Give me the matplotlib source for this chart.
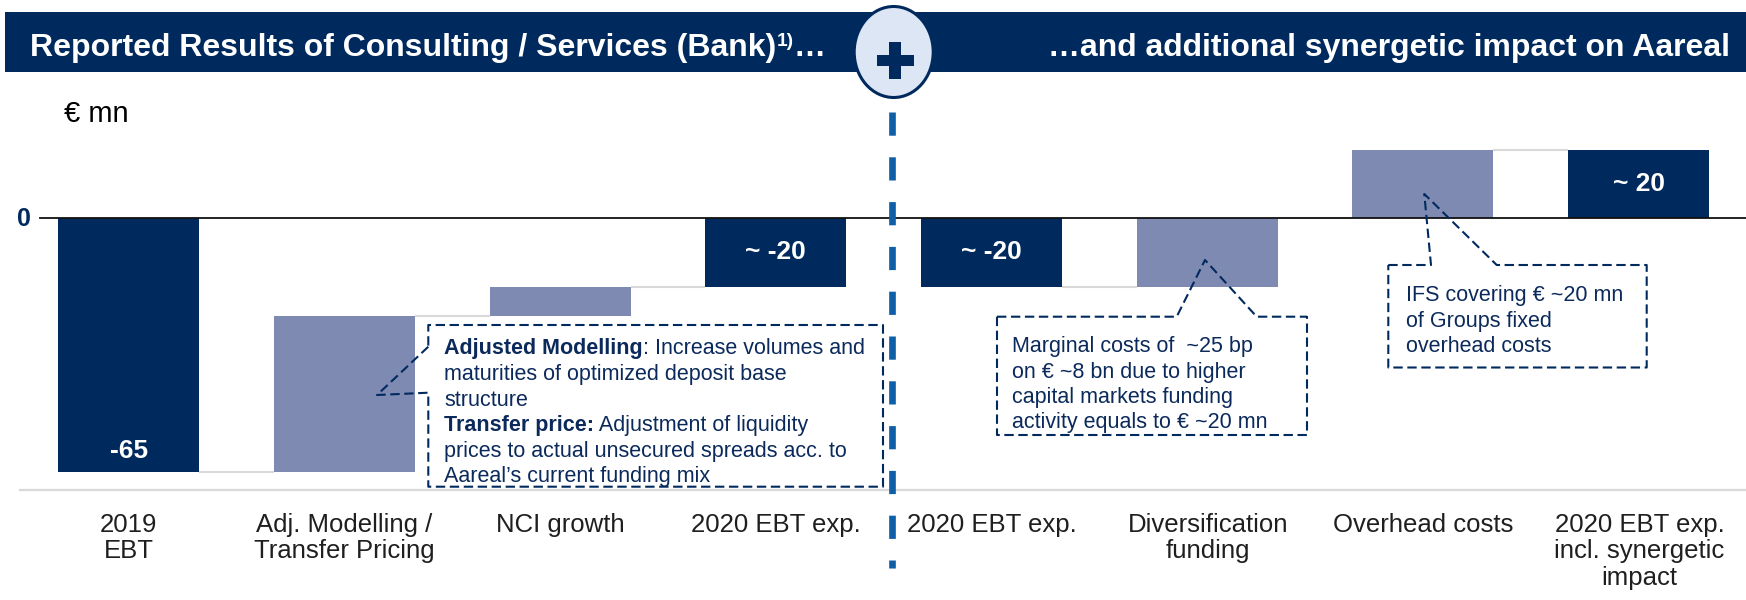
import matplotlib

matplotlib.use("Agg")
import matplotlib.pyplot as plt
from matplotlib.patches import Ellipse, Rectangle

plt.rcParams["font.family"] = ["Liberation Sans", "DejaVu Sans"]

# Waterfall: EBT of Consulting / Services (Bank), then the synergetic effects on Aareal
CATEGORIES = [
    "2019\nEBT",
    "Adj. Modelling /\nTransfer Pricing",
    "NCI growth",
    "2020 EBT exp.",
    "2020 EBT exp.",
    "Diversification\nfunding",
    "Overhead costs",
    "2020 EBT exp.\nincl. synergetic\nimpact",
]
VALUES = [-65.0, 40.0, 7.5, -17.5, -17.5, 17.5, 17.5, 17.5]
IS_TOTAL = [True, False, False, True, True, False, False, True]
APPROX_LABEL = [False, False, False, True, True, False, False, True]

NAVY = "#002A5E"
LIGHT = "#7F8AB3"
TEXT_BLUE = "#0B2A5B"
W, H = 1746, 600

fig = plt.figure(figsize=(W / 100, H / 100), dpi=100)
fig.patch.set_facecolor("white")

# chart axes: x in bar index units, y in EUR mn
ax = fig.add_axes([20 / W, 110 / H, 1726 / W, 390 / H])
ax.set_xlim(-0.504, 7.498)
ax.set_ylim(-69.6, 30.3)
ax.set_facecolor("none")
for side in ("top", "right", "left"):
    ax.spines[side].set_visible(False)
ax.spines["bottom"].set_color("#D9D9D9")
ax.spines["bottom"].set_linewidth(1.6)
ax.set_xticks([])
ax.set_yticks([])

bar_w = 0.654
level = 0.0
bottoms, tops = [], []
for v, total in zip(VALUES, IS_TOTAL):
    if total:
        b = 0.0
        level = v
    else:
        b = level
        level += v
    bottoms.append(b)
    tops.append(b + v)

colors = [NAVY if t else LIGHT for t in IS_TOTAL]
xs = list(range(len(VALUES)))
ax.bar(xs, [t - b for b, t in zip(bottoms, tops)], bottom=bottoms, width=bar_w,
       color=colors, edgecolor="none", zorder=2)

# connectors between consecutive bars
for i in range(len(VALUES) - 1):
    if IS_TOTAL[i] and IS_TOTAL[i + 1]:
        continue
    y = bottoms[i + 1] if not IS_TOTAL[i + 1] else tops[i + 1]
    ax.plot([i + bar_w / 2, i + 1 - bar_w / 2], [y, y], color="#D9D9D9", lw=1.5,
            solid_capstyle="butt", zorder=1)

ax.axhline(0, xmin=(40 - 20) / 1726, xmax=1, color="#111111", lw=1.3, zorder=3)

# value labels inside the total bars
for i, (v, total, approx) in enumerate(zip(VALUES, IS_TOTAL, APPROX_LABEL)):
    if not total:
        continue
    if approx:
        txt = f"~ {10 * round(v / 10):.0f}"
        ax.text(i, v / 2, txt, ha="center", va="center", color="white",
                fontsize=19, fontweight="bold", zorder=4)
    else:
        ax.annotate(f"{v:.0f}", xy=(i, v), xytext=(0, 15), textcoords="offset points",
                    ha="center", va="center", color="white", fontsize=19,
                    fontweight="bold", zorder=4)

# overlay in figure pixels for header, callouts and text
ov = fig.add_axes([0, 0, 1, 1], zorder=5)
ov.set_xlim(0, W)
ov.set_ylim(H, 0)
ov.axis("off")
ov.patch.set_alpha(0)

for i, cat in enumerate(CATEGORIES):
    x_px = 20 + (i + 0.504) * 1726 / 7.998
    ov.text(x_px, 513, cat, ha="center", va="top", fontsize=18.5, color="#1F1F1F",
            linespacing=1.12)

ov.text(64, 121.7, "€ mn", fontsize=21, va="baseline", ha="left", color="black")
ov.text(24, 219, "0", fontsize=18, fontweight="bold", color=NAVY, ha="center", va="center")

# header band
ov.add_patch(Rectangle((5, 11.7), W - 5, 60, facecolor=NAVY, edgecolor="none", zorder=1))


def rich_line(x, y, parts, size, color, zorder=3):
    prev = None
    for text, weight, size_k, rise in parts:
        if prev is None:
            prev = ov.text(x, y, text, fontsize=size * size_k, fontweight=weight,
                           color=color, ha="left", va="baseline", zorder=zorder)
        else:
            prev = ov.annotate(text, xy=(1, 0), xycoords=prev, xytext=(0, rise),
                               textcoords="offset points", fontsize=size * size_k,
                               fontweight=weight, color=color, ha="left",
                               va="bottom", zorder=zorder)
    return prev


rich_line(30, 56, [("Reported Results of Consulting / Services (Bank)", "bold", 1, 0),
                   ("1)", "bold", 0.6, 9.5),
                   ("…", "bold", 1, -9.5)], 23, "white")
ov.text(1730, 56, "…and additional synergetic impact on Aareal", fontsize=23,
        fontweight="bold", color="white", ha="right", va="baseline", zorder=3)

# plus sign between the two halves
ov.add_patch(Ellipse((893.7, 52), 79, 91, facecolor="#DDE6F5", edgecolor=NAVY,
                     lw=2.2, zorder=4))
ov.add_patch(Rectangle((876.7, 55), 37.6, 10.6, facecolor=NAVY, edgecolor="none", zorder=5))
ov.add_patch(Rectangle((889.3, 41.6), 11.4, 37.4, facecolor=NAVY, edgecolor="none", zorder=5))

# separator
ov.plot([891.7, 891.7], [111.7, 568], color="#0F5FA8", lw=4.8,
        linestyle=(0, (3.48, 3.24)), solid_capstyle="butt", zorder=2)

# dashed callouts
box_style = dict(color=NAVY, lw=1.5, linestyle=(0, (4.5, 2.2)), zorder=3)
ov.plot([428.3, 377, 428.3, 428.3, 883, 883, 428.3, 428.3],
        [346.7, 395, 392.7, 486.7, 486.7, 325, 325, 346.7], **box_style)
ov.plot([997, 1176.7, 1205, 1256.7, 1307, 1307, 997, 997],
        [316.7, 316.7, 260, 316.7, 316.7, 435, 435, 316.7], **box_style)
ov.plot([1388.3, 1431, 1424.3, 1496.7, 1646.7, 1646.7, 1388.3, 1388.3],
        [265, 265, 194, 265, 265, 367.5, 367.5, 265], **box_style)

fs = 15.5
box1 = [
    [("Adjusted Modelling", "bold", 1, 0), (": Increase volumes and", "normal", 1, 0)],
    [("maturities of optimized deposit base", "normal", 1, 0)],
    [("structure", "normal", 1, 0)],
    [("Transfer price:", "bold", 1, 0), (" Adjustment of liquidity", "normal", 1, 0)],
    [("prices to actual unsecured spreads acc. to", "normal", 1, 0)],
    [("Aareal’s current funding mix", "normal", 1, 0)],
]
for k, parts in enumerate(box1):
    rich_line(444, 354.3 + 25.6 * k, parts, fs, TEXT_BLUE)

box2 = ["Marginal costs of  ~25 bp", "on € ~8 bn due to higher",
        "capital markets funding", "activity equals to € ~20 mn"]
for k, line in enumerate(box2):
    ov.text(1012, 352.3 + 25.3 * k, line, fontsize=fs, color=TEXT_BLUE, va="baseline")

box3 = ["IFS covering € ~20 mn", "of Groups fixed", "overhead costs"]
for k, line in enumerate(box3):
    ov.text(1405.7, 301 + 25.7 * k, line, fontsize=fs, color=TEXT_BLUE, va="baseline")

fig.savefig("out.png", dpi=100, facecolor="white")
